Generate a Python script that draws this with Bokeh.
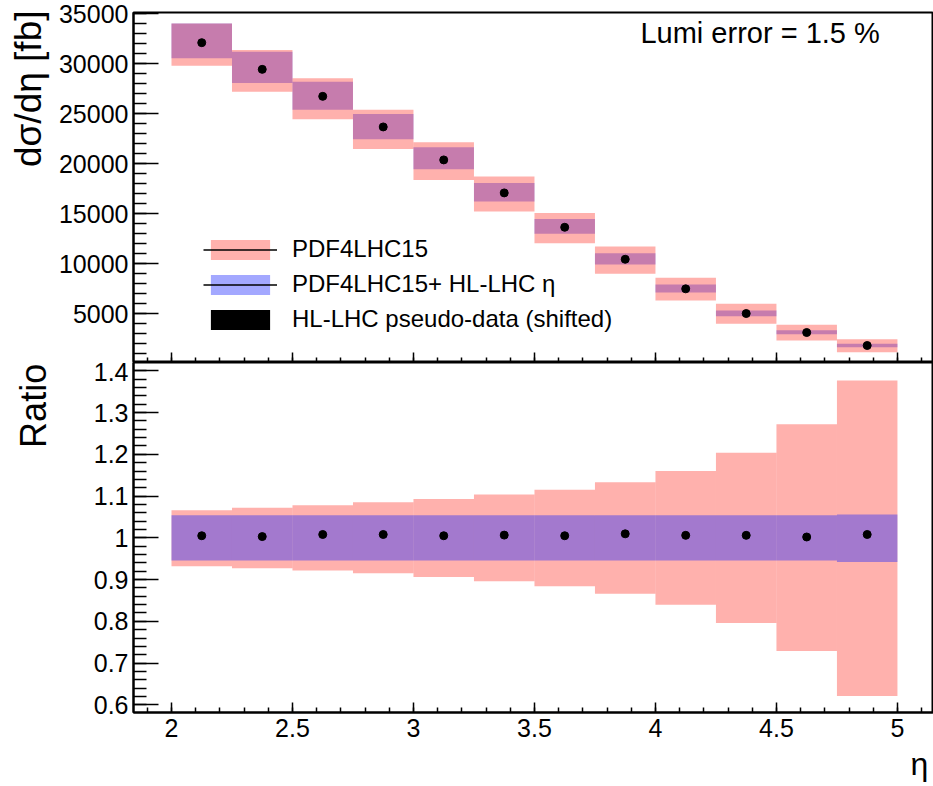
import numpy as np
from bokeh.plotting import figure
from bokeh.layouts import column
from bokeh.models import Range1d, FixedTicker, Label, Legend, LegendItem
from bokeh.embed import file_html
from bokeh.resources import INLINE

# ---------------- data ----------------
bin_edges = [2.0, 2.25, 2.5, 2.75, 3.0, 3.25, 3.5, 3.75, 4.0, 4.25, 4.5, 4.75, 5.0]

# top panel: d sigma / d eta [fb]
pdf_hi = [34030, 31370, 28530, 25400, 22130, 18700, 15070, 11700, 8570, 5970, 3870, 2430]
pdf_lo = [29800, 27200, 24430, 21470, 18370, 15200, 12030, 8970, 6300, 3970, 2300, 1130]
hl_hi = [34030, 31200, 28200, 24970, 21630, 18070, 14470, 11030, 7900, 5300, 3330, 1970]
hl_lo = [30530, 28070, 25400, 22430, 19430, 16200, 12970, 9900, 7100, 4730, 2930, 1630]
pseudo_data = [32100, 29430, 26730, 23670, 20370, 17070, 13630, 10430, 7470, 5000, 3100, 1800]

# bottom panel: ratio
r_pdf_hi = [1.066, 1.072, 1.078, 1.085, 1.093, 1.104, 1.115, 1.133, 1.160, 1.204, 1.272, 1.377]
r_pdf_lo = [0.932, 0.927, 0.922, 0.915, 0.906, 0.896, 0.884, 0.866, 0.840, 0.796, 0.729, 0.621]
r_hl_hi = [1.054, 1.054, 1.054, 1.054, 1.054, 1.054, 1.054, 1.054, 1.054, 1.054, 1.054, 1.056]
r_hl_lo = [0.946, 0.946, 0.946, 0.946, 0.946, 0.946, 0.946, 0.946, 0.946, 0.946, 0.946, 0.942]
r_data = [1.005, 1.003, 1.008, 1.008, 1.005, 1.0065, 1.005, 1.0096, 1.006, 1.006, 1.002, 1.008]

x_major = [2, 2.5, 3, 3.5, 4, 4.5, 5]
x_labels = {2: "2", 2.5: "2.5", 3: "3", 3.5: "3.5", 4: "4", 4.5: "4.5", 5: "5"}
top_y_major = [5000, 10000, 15000, 20000, 25000, 30000, 35000]
ratio_y_major = [0.6, 0.7, 0.8, 0.9, 1, 1.1, 1.2, 1.3, 1.4]
ratio_labels = {0.6: "0.6", 0.7: "0.7", 0.8: "0.8", 0.9: "0.9", 1: "1",
                1.1: "1.1", 1.2: "1.2", 1.3: "1.3", 1.4: "1.4"}

left = bin_edges[:-1]
right = bin_edges[1:]
centers = [(a + b) / 2 for a, b in zip(left, right)]

PINK = "#FF372D"      # drawn with alpha 0.39
BLUE = "#1925FF"      # drawn with alpha 0.40
FONT = "Liberation Sans"
X_RANGE = (1.843, 5.149)
NAN = [float("nan")]


def style(p, x_tick_in=10, x_minor_in=5):
    p.grid.visible = False
    p.outline_line_color = "black"
    p.outline_line_width = 2
    p.outline_line_alpha = 1
    p.background_fill_color = "white"
    p.border_fill_color = "white"
    for ax in p.axis:
        ax.axis_line_width = 2
        ax.axis_line_color = "black"
        ax.major_tick_line_width = 1.5
        ax.minor_tick_line_width = 1.5
        ax.major_tick_line_color = "black"
        ax.minor_tick_line_color = "black"
        ax.major_tick_out = 0
        ax.minor_tick_out = 0
        ax.major_label_text_font = FONT
        ax.major_label_text_font_size = "25px"
        ax.major_label_text_color = "black"
    p.xaxis.major_tick_in = x_tick_in
    p.xaxis.minor_tick_in = x_minor_in
    p.yaxis.major_tick_in = 25
    p.yaxis.minor_tick_in = 13
    p.yaxis.major_label_standoff = 5
    p.xaxis.ticker = FixedTicker(ticks=x_major,
                                 minor_ticks=list(np.round(np.arange(1.9, 5.15, 0.1), 2)))


def text_label(x, y, text, size, angle=0.0, align="left"):
    return Label(x=x, y=y, text=text, angle=angle, text_font=FONT, text_font_size=size,
                 text_color="black", text_align=align, text_baseline="middle")


# ---------------- top panel ----------------
p1 = figure(width=933, height=362,
            x_range=Range1d(*X_RANGE), y_range=Range1d(100, 35120),
            output_backend="svg", toolbar_location=None,
            min_border_left=133, min_border_right=0, min_border_top=12, min_border_bottom=0)
style(p1)
p1.xaxis.major_label_overrides = {t: "" for t in x_major}
p1.xaxis.major_label_text_font_size = "0px"
p1.xaxis.major_label_standoff = 0
p1.yaxis.ticker = FixedTicker(ticks=top_y_major, minor_ticks=list(range(1000, 35001, 1000)))

blue_r = p1.quad(left=left, right=right, bottom=hl_lo, top=hl_hi,
                 fill_color=BLUE, fill_alpha=0.40, line_color=None)
pink_r = p1.quad(left=left, right=right, bottom=pdf_lo, top=pdf_hi,
                 fill_color=PINK, fill_alpha=0.39, line_color=None)
p1.scatter(x=centers, y=pseudo_data, size=8, color="black")

# legend-only renderers (no visible marks)
leg_line = p1.line(x=NAN, y=NAN, line_color="black", line_width=1.5)
leg_black = p1.quad(left=NAN, right=NAN, bottom=NAN, top=NAN, fill_color="black", line_color=None)

legend = Legend(items=[
    LegendItem(label="PDF4LHC15", renderers=[pink_r, leg_line]),
    LegendItem(label="PDF4LHC15+ HL-LHC \u03b7", renderers=[blue_r, leg_line]),
    LegendItem(label="HL-LHC pseudo-data (shifted)", renderers=[leg_black]),
], location=(70, 29), glyph_width=74, glyph_height=25, label_height=25,
    label_standoff=15, spacing=7, padding=0, margin=0,
    border_line_color=None, background_fill_alpha=0,
    label_text_font=FONT, label_text_font_size="24px", label_text_color="black")
p1.add_layout(legend)

p1.add_layout(text_label(3.938, 33060, "Lumi error = 1.5 %", "29px"))
# axis title in the left side panel (so it is not clipped to the frame)
p1.add_layout(text_label(1.4091, 35320, "d\u03c3/d\u03b7 [fb]", "37px",
                         angle=np.pi / 2, align="right"), "left")

# ---------------- bottom panel ----------------
p2 = figure(width=933, height=424,
            x_range=Range1d(*X_RANGE), y_range=Range1d(0.5816, 1.42),
            output_backend="svg", toolbar_location=None,
            min_border_left=133, min_border_right=0, min_border_top=0, min_border_bottom=74)
style(p2)
p2.xaxis.major_label_overrides = x_labels
p2.xaxis.major_label_standoff = 6
p2.yaxis.ticker = FixedTicker(ticks=ratio_y_major,
                              minor_ticks=list(np.round(np.arange(0.6, 1.42, 0.02), 2)))
p2.yaxis.major_label_overrides = ratio_labels

p2.quad(left=left, right=right, bottom=r_pdf_lo, top=r_pdf_hi,
        fill_color=PINK, fill_alpha=0.39, line_color=None)
p2.quad(left=left, right=right, bottom=r_hl_lo, top=r_hl_hi,
        fill_color=BLUE, fill_alpha=0.40, line_color=None)
p2.scatter(x=centers, y=r_data, size=8, color="black")

p2.add_layout(text_label(1.4298, 1.4168, "Ratio", "36px",
                         angle=np.pi / 2, align="right"), "left")
p2.add_layout(text_label(5.128, 0.4576, "\u03b7", "32px", align="right"), "below")

layout = column(p1, p2, spacing=0)
open("out.html", "w").write(file_html(layout, INLINE))
